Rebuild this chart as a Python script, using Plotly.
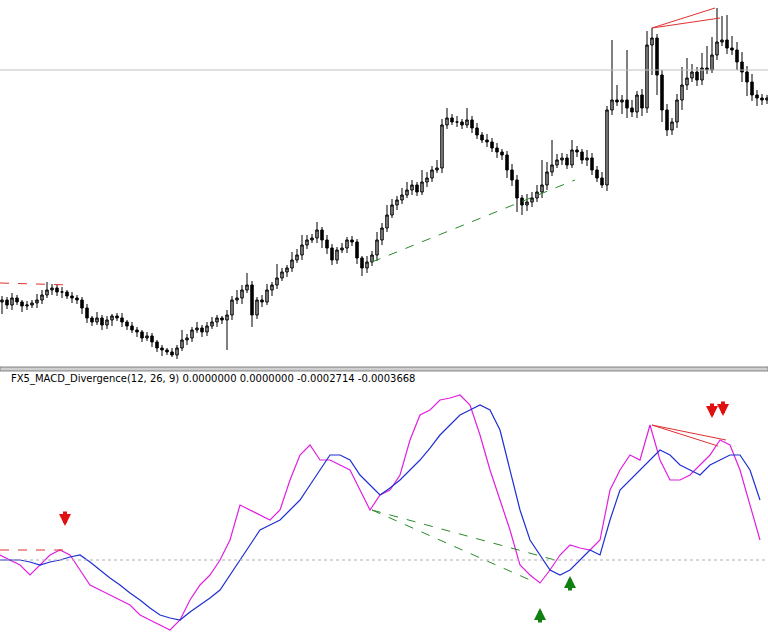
import plotly.graph_objects as go

# price chart: bar position and close (price units, higher = up)
bar_x = [2 + 5 * i for i in range(154)]
close = [-300, -305, -298, -302, -306, -305, -303, -300, -295, -290, -288, -292, -292, -296, -298, -300,
         -308, -318, -322, -318, -325, -320, -316, -318, -322, -326, -330, -332, -338, -336, -342, -348,
         -350, -352, -355, -348, -340, -338, -330, -328, -332, -326, -322, -318, -320, -315, -300, -298,
         -290, -285, -315, -300, -302, -290, -285, -278, -272, -268, -260, -255, -245, -240, -238, -230,
         -240, -248, -260, -250, -248, -240, -242, -258, -268, -262, -255, -240, -228, -215, -205, -200,
         -195, -190, -185, -192, -182, -178, -170, -168, -125, -118, -122, -122, -125, -120, -128, -135,
         -140, -142, -148, -152, -155, -170, -180, -198, -205, -202, -198, -192, -185, -172, -165, -160,
         -158, -165, -150, -152, -160, -158, -170, -178, -185, -110, -100, -102, -100, -108, -112, -95,
         -108, -45, -38, -75, -110, -130, -122, -100, -85, -78, -72, -80, -68, -70, -55, -42,
         -40, -48, -50, -62, -72, -82, -95, -98, -100, -98]
open_ = [-302] + close[:-1]
up_wick = [4, 3, 5, 3, 2, 4, 3, 6, 5, 8, 4, 3, 5, 2, 4, 3, 3, 4, 2, 6, 3, 4, 2, 3, 5, 2, 4, 3, 2, 4, 3, 2,
           3, 2, 4, 3, 10, 4, 3, 6, 3, 4, 5, 3, 2, 5, 4, 8, 5, 12, 4, 3, 5, 6, 3, 14, 4, 3, 8, 6, 10, 5, 4, 8,
           3, 5, 4, 3, 5, 3, 4, 3, 2, 6, 4, 8, 5, 10, 6, 4, 7, 8, 5, 3, 12, 6, 4, 8, 6, 10, 4, 6, 3, 12, 4, 5,
           3, 6, 4, 5, 3, 4, 6, 5, 3, 8, 6, 7, 25, 10, 25, 6, 5, 4, 10, 4, 3, 8, 5, 4, 6, 4, 60, 15, 5, 50, 8, 4,
           6, 14, 10, 4, 5, 6, 4, 6, 18, 20, 8, 5, 15, 22, 18, 34, 24, 25, 12, 8, 10, 6, 8, 5, 4, 3]
low_wick = [12, 4, 5, 3, 6, 4, 3, 5, 4, 3, 5, 4, 6, 3, 5, 4, 6, 5, 4, 3, 5, 4, 6, 3, 5, 4, 3, 5, 4, 3, 5, 4,
            6, 3, 2, 4, 3, 5, 4, 3, 5, 4, 3, 5, 4, 30, 5, 4, 6, 3, 12, 4, 5, 3, 6, 4, 3, 5, 4, 3, 5, 4, 3, 5,
            8, 6, 5, 4, 3, 5, 4, 6, 8, 5, 4, 6, 5, 4, 3, 5, 4, 3, 5, 4, 3, 5, 4, 3, 5, 4, 3, 5, 4, 3, 5, 4,
            3, 5, 4, 6, 5, 8, 6, 14, 10, 6, 5, 4, 6, 5, 4, 3, 5, 4, 3, 5, 4, 6, 5, 4, 3, 6, 5, 4, 12, 10, 5, 6,
            8, 5, 30, 20, 12, 6, 5, 6, 10, 5, 4, 6, 5, 4, 3, 5, 4, 6, 5, 8, 10, 14, 6, 8, 5, 4]
high = [max(o, c) + w for o, c, w in zip(open_, close, up_wick)]
low = [min(o, c) - w for o, c, w in zip(open_, close, low_wick)]

# MACD panel
macd_x = list(range(0, 770, 10))
macd_main = [-555, -560, -565, -575, -565, -555, -550, -555, -570, -585, -590, -595, -600, -605, -615, -620,
             -625, -630, -620, -600, -585, -575, -560, -540, -505, -510, -515, -520, -510, -480, -455, -445,
             -460, -460, -465, -470, -490, -510, -495, -490, -475, -440, -415, -410, -400, -398, -395, -405,
             -435, -470, -500, -530, -565, -575, -583, -570, -555, -545, -548, -550, -540, -490, -470, -455,
             -460, -425, -460, -480, -480, -475, -465, -455, -440, -445, -470, -505, -540]
macd_signal = [-560, -560, -560, -562, -565, -562, -560, -557, -555, -562, -570, -578, -585, -593, -600, -608,
               -615, -618, -620, -612, -605, -598, -590, -575, -560, -545, -530, -525, -520, -510, -500, -485,
               -470, -455, -455, -460, -475, -485, -495, -488, -480, -470, -460, -448, -435, -425, -415, -410,
               -405, -410, -430, -470, -510, -540, -555, -570, -575, -570, -560, -550, -555, -520, -490, -480,
               -470, -460, -450, -455, -465, -470, -475, -465, -460, -455, -455, -470, -500]

# signal arrows (x, y)
sell_x = [65, 712, 723]
sell_y = [-520, -412, -410]
buy_x = [540, 570]
buy_y = [-614, -582]

header = "FX5_MACD_Divergence(12, 26, 9) 0.0000000 0.0000000 -0.0002714 -0.0003668"

fig = go.Figure()

fig.add_trace(go.Candlestick(
    x=bar_x, open=open_, high=high, low=low, close=close,
    increasing=dict(line=dict(color='black', width=1), fillcolor='#9a9a9a'),
    decreasing=dict(line=dict(color='black', width=1), fillcolor='black'),
    whiskerwidth=0, xaxis='x', yaxis='y', showlegend=False,
))

# divergence lines on price
fig.add_trace(go.Scatter(x=[0, 70], y=[-283, -285], mode='lines',
                         line=dict(color='#e03030', width=1, dash='dash'), showlegend=False))
fig.add_trace(go.Scatter(x=[372, 575], y=[-262, -180], mode='lines',
                         line=dict(color='#2a8a2a', width=1, dash='dash'), showlegend=False))
fig.add_trace(go.Scatter(x=[652, 715, None, 652, 720], y=[-28, -8, None, -28, -18], mode='lines',
                         line=dict(color='#e03030', width=1), showlegend=False))

# MACD lines
fig.add_trace(go.Scatter(x=macd_x, y=macd_main, mode='lines', line=dict(color='#e020e0', width=1.2),
                         xaxis='x2', yaxis='y2', showlegend=False))
fig.add_trace(go.Scatter(x=macd_x, y=macd_signal, mode='lines', line=dict(color='#1f2fd0', width=1.2),
                         xaxis='x2', yaxis='y2', showlegend=False))
fig.add_trace(go.Scatter(x=[0, 65], y=[-550, -550], mode='lines', line=dict(color='#e03030', width=1, dash='dash'),
                         xaxis='x2', yaxis='y2', showlegend=False))
fig.add_trace(go.Scatter(x=[372, 530, None, 372, 555], y=[-510, -580, None, -510, -560], mode='lines',
                         line=dict(color='#2a8a2a', width=1, dash='dash'), xaxis='x2', yaxis='y2', showlegend=False))
fig.add_trace(go.Scatter(x=[652, 718, None, 652, 726], y=[-425, -446, None, -425, -440], mode='lines',
                         line=dict(color='#e03030', width=1), xaxis='x2', yaxis='y2', showlegend=False))

annotations = [dict(text=header, xref='paper', yref='paper', x=0.012, y=0.4035,
                    xanchor='left', yanchor='middle', showarrow=False,
                    font=dict(family='DejaVu Sans', size=10, color='black'))]
for x, y in zip(sell_x, sell_y):
    annotations.append(dict(x=x, y=y - 6, xref='x2', yref='y2', ax=0, ay=-16, text='', showarrow=True,
                            arrowhead=2, arrowsize=0.6, arrowwidth=4, arrowcolor='#e01010'))
for x, y in zip(buy_x, buy_y):
    annotations.append(dict(x=x, y=y + 6, xref='x2', yref='y2', ax=0, ay=16, text='', showarrow=True,
                            arrowhead=2, arrowsize=0.6, arrowwidth=4, arrowcolor='#108010'))

fig.update_layout(
    width=768, height=635,
    margin=dict(l=0, r=0, t=0, b=0),
    paper_bgcolor='white', plot_bgcolor='white',
    xaxis=dict(range=[0, 768], visible=False, rangeslider=dict(visible=False), domain=[0, 1]),
    yaxis=dict(range=[-368, 0], visible=False, domain=[0.4205, 1]),
    xaxis2=dict(range=[0, 768], visible=False, anchor='y2'),
    yaxis2=dict(range=[-635, -375], visible=False, domain=[0, 0.4094], anchor='x2'),
    shapes=[
        dict(type='line', xref='paper', x0=0, x1=1, yref='y', y0=-70, y1=-70,
             line=dict(color='#c0c0c0', width=1)),
        dict(type='line', xref='paper', x0=0, x1=1, yref='y2', y0=-560, y1=-560,
             line=dict(color='#b0b0b0', width=1, dash='dot')),
        dict(type='rect', xref='paper', x0=0, x1=1, yref='paper', y0=0.4158, y1=0.4220,
             fillcolor='#d0d0d0', line=dict(color='#808080', width=1)),
    ],
    annotations=annotations,
)

fig.write_html("out.html", config={'displayModeBar': False},
               post_script="document.body.style.margin='0';")
